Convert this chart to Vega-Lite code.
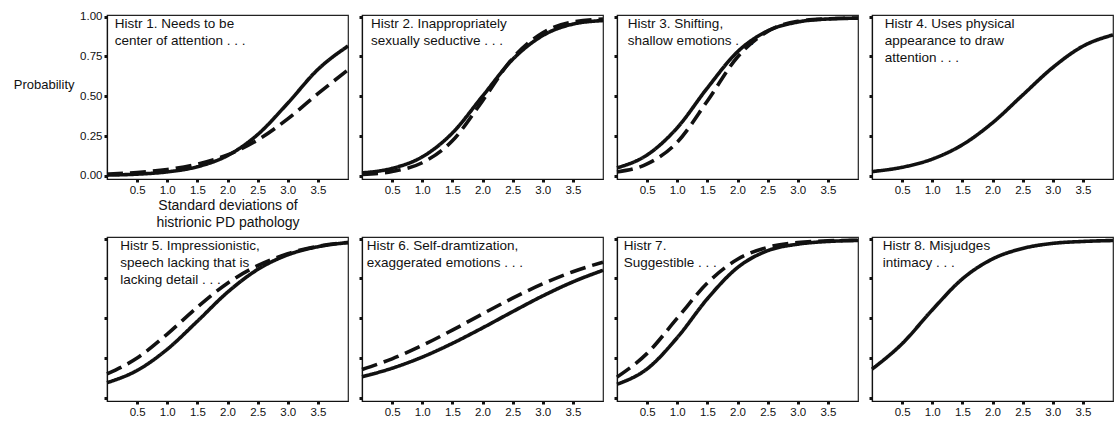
{
  "$schema": "https://vega.github.io/schema/vega-lite/v6.json",
  "padding": {"left": 12, "top": 9, "right": 0, "bottom": 0},
  "background": "white",
  "datasets": {
    "curves": [
      {"panel":1,"type":"solid","x":0,"p":0.0044},{"panel":1,"type":"solid","x":0.5,"p":0.0105},{"panel":1,"type":"solid","x":1,"p":0.0247},{"panel":1,"type":"solid","x":1.5,"p":0.057},{"panel":1,"type":"solid","x":2,"p":0.127},{"panel":1,"type":"solid","x":2.5,"p":0.259},{"panel":1,"type":"solid","x":3,"p":0.456},{"panel":1,"type":"solid","x":3.5,"p":0.668},{"panel":1,"type":"solid","x":4,"p":0.815},
      {"panel":1,"type":"dashed","x":0,"p":0.0111},{"panel":1,"type":"dashed","x":0.5,"p":0.0211},{"panel":1,"type":"dashed","x":1,"p":0.0397},{"panel":1,"type":"dashed","x":1.5,"p":0.0735},{"panel":1,"type":"dashed","x":2,"p":0.132},{"panel":1,"type":"dashed","x":2.5,"p":0.225},{"panel":1,"type":"dashed","x":3,"p":0.358},{"panel":1,"type":"dashed","x":3.5,"p":0.516},{"panel":1,"type":"dashed","x":4,"p":0.665},
      {"panel":2,"type":"solid","x":0,"p":0.018},{"panel":2,"type":"solid","x":0.5,"p":0.047},{"panel":2,"type":"solid","x":1,"p":0.119},{"panel":2,"type":"solid","x":1.5,"p":0.269},{"panel":2,"type":"solid","x":2,"p":0.5},{"panel":2,"type":"solid","x":2.5,"p":0.731},{"panel":2,"type":"solid","x":3,"p":0.881},{"panel":2,"type":"solid","x":3.5,"p":0.953},{"panel":2,"type":"solid","x":4,"p":0.975},
      {"panel":2,"type":"dashed","x":0,"p":0.0089},{"panel":2,"type":"dashed","x":0.5,"p":0.0276},{"panel":2,"type":"dashed","x":1,"p":0.082},{"panel":2,"type":"dashed","x":1.5,"p":0.22},{"panel":2,"type":"dashed","x":2,"p":0.471},{"panel":2,"type":"dashed","x":2.5,"p":0.738},{"panel":2,"type":"dashed","x":3,"p":0.899},{"panel":2,"type":"dashed","x":3.5,"p":0.966},{"panel":2,"type":"dashed","x":4,"p":0.984},
      {"panel":3,"type":"solid","x":0,"p":0.05},{"panel":3,"type":"solid","x":0.5,"p":0.131},{"panel":3,"type":"solid","x":1,"p":0.302},{"panel":3,"type":"solid","x":1.5,"p":0.552},{"panel":3,"type":"solid","x":2,"p":0.779},{"panel":3,"type":"solid","x":2.5,"p":0.91},{"panel":3,"type":"solid","x":3,"p":0.966},{"panel":3,"type":"solid","x":3.5,"p":0.985},{"panel":3,"type":"solid","x":4,"p":0.99},
      {"panel":3,"type":"dashed","x":0,"p":0.0237},{"panel":3,"type":"dashed","x":0.5,"p":0.0745},{"panel":3,"type":"dashed","x":1,"p":0.211},{"panel":3,"type":"dashed","x":1.5,"p":0.47},{"panel":3,"type":"dashed","x":2,"p":0.746},{"panel":3,"type":"dashed","x":2.5,"p":0.907},{"panel":3,"type":"dashed","x":3,"p":0.97},{"panel":3,"type":"dashed","x":3.5,"p":0.986},{"panel":3,"type":"dashed","x":4,"p":0.991},
      {"panel":4,"type":"solid","x":0,"p":0.0267},{"panel":4,"type":"solid","x":0.5,"p":0.0536},{"panel":4,"type":"solid","x":1,"p":0.105},{"panel":4,"type":"solid","x":1.5,"p":0.195},{"panel":4,"type":"solid","x":2,"p":0.333},{"panel":4,"type":"solid","x":2.5,"p":0.507},{"panel":4,"type":"solid","x":3,"p":0.68},{"panel":4,"type":"solid","x":3.5,"p":0.814},{"panel":4,"type":"solid","x":4,"p":0.885},
      {"panel":5,"type":"solid","x":0,"p":0.095},{"panel":5,"type":"solid","x":0.5,"p":0.172},{"panel":5,"type":"solid","x":1,"p":0.305},{"panel":5,"type":"solid","x":1.5,"p":0.481},{"panel":5,"type":"solid","x":2,"p":0.663},{"panel":5,"type":"solid","x":2.5,"p":0.806},{"panel":5,"type":"solid","x":3,"p":0.898},{"panel":5,"type":"solid","x":3.5,"p":0.949},{"panel":5,"type":"solid","x":4,"p":0.975},
      {"panel":5,"type":"dashed","x":0,"p":0.15},{"panel":5,"type":"dashed","x":0.5,"p":0.25},{"panel":5,"type":"dashed","x":1,"p":0.4},{"panel":5,"type":"dashed","x":1.5,"p":0.57},{"panel":5,"type":"dashed","x":2,"p":0.72},{"panel":5,"type":"dashed","x":2.5,"p":0.83},{"panel":5,"type":"dashed","x":3,"p":0.905},{"panel":5,"type":"dashed","x":3.5,"p":0.952},{"panel":5,"type":"dashed","x":4,"p":0.976},
      {"panel":6,"type":"solid","x":0,"p":0.132},{"panel":6,"type":"solid","x":0.5,"p":0.186},{"panel":6,"type":"solid","x":1,"p":0.256},{"panel":6,"type":"solid","x":1.5,"p":0.342},{"panel":6,"type":"solid","x":2,"p":0.439},{"panel":6,"type":"solid","x":2.5,"p":0.541},{"panel":6,"type":"solid","x":3,"p":0.64},{"panel":6,"type":"solid","x":3.5,"p":0.728},{"panel":6,"type":"solid","x":4,"p":0.801},
      {"panel":6,"type":"dashed","x":0,"p":0.178},{"panel":6,"type":"dashed","x":0.5,"p":0.245},{"panel":6,"type":"dashed","x":1,"p":0.329},{"panel":6,"type":"dashed","x":1.5,"p":0.425},{"panel":6,"type":"dashed","x":2,"p":0.527},{"panel":6,"type":"dashed","x":2.5,"p":0.626},{"panel":6,"type":"dashed","x":3,"p":0.716},{"panel":6,"type":"dashed","x":3.5,"p":0.792},{"panel":6,"type":"dashed","x":4,"p":0.852},
      {"panel":7,"type":"solid","x":0,"p":0.085},{"panel":7,"type":"solid","x":0.5,"p":0.182},{"panel":7,"type":"solid","x":1,"p":0.378},{"panel":7,"type":"solid","x":1.5,"p":0.622},{"panel":7,"type":"solid","x":2,"p":0.818},{"panel":7,"type":"solid","x":2.5,"p":0.924},{"panel":7,"type":"solid","x":3,"p":0.965},{"panel":7,"type":"solid","x":3.5,"p":0.982},{"panel":7,"type":"solid","x":4,"p":0.988},
      {"panel":7,"type":"dashed","x":0,"p":0.13},{"panel":7,"type":"dashed","x":0.5,"p":0.279},{"panel":7,"type":"dashed","x":1,"p":0.5},{"panel":7,"type":"dashed","x":1.5,"p":0.721},{"panel":7,"type":"dashed","x":2,"p":0.87},{"panel":7,"type":"dashed","x":2.5,"p":0.945},{"panel":7,"type":"dashed","x":3,"p":0.975},{"panel":7,"type":"dashed","x":3.5,"p":0.986},{"panel":7,"type":"dashed","x":4,"p":0.99},
      {"panel":8,"type":"solid","x":0,"p":0.18},{"panel":8,"type":"solid","x":0.5,"p":0.34},{"panel":8,"type":"solid","x":1,"p":0.552},{"panel":8,"type":"solid","x":1.5,"p":0.747},{"panel":8,"type":"solid","x":2,"p":0.872},{"panel":8,"type":"solid","x":2.5,"p":0.938},{"panel":8,"type":"solid","x":3,"p":0.97},{"panel":8,"type":"solid","x":3.5,"p":0.982},{"panel":8,"type":"solid","x":4,"p":0.988}
    ],
    "labels": [
      {"panel":1,"x":0.13,"p":0.995,"label":"Histr 1.  Needs to be\ncenter of attention . . ."},
      {"panel":2,"x":0.15,"p":0.995,"label":"Histr 2.  Inappropriately\nsexually seductive  . . ."},
      {"panel":3,"x":0.18,"p":0.995,"label":"Histr 3.  Shifting,\nshallow emotions . . ."},
      {"panel":4,"x":0.21,"p":0.995,"label":"Histr 4.  Uses physical\nappearance to draw\nattention  . . ."},
      {"panel":5,"x":0.22,"p":0.995,"label":"Histr 5.  Impressionistic,\nspeech lacking that is\nlacking detail . . ."},
      {"panel":6,"x":0.08,"p":0.995,"label":"Histr 6.  Self-dramtization,\nexaggerated emotions  . . ."},
      {"panel":7,"x":0.11,"p":0.995,"label":"Histr 7.\nSuggestible  . . ."},
      {"panel":8,"x":0.18,"p":0.995,"label":"Histr 8.  Misjudges\nintimacy . . ."}
    ]
  },
  "columns": 4,
  "bounds": "flush",
  "spacing": {"row": 58, "column": 14},
  "concat": [
    {
      "width": 241, "height": 164,
      "encoding": {
        "x": {"field": "x", "type": "quantitative", "scale": {"domain": [0, 4], "nice": false, "zero": false},
              "axis": {"values": [0.5,1,1.5,2,2.5,3,3.5], "format": ".1f", "title": ["Standard deviations of", "histrionic PD pathology"], "titleFontSize": 14, "titleLineHeight": 16.5, "titlePadding": 3}},
        "y": {"field": "p", "type": "quantitative", "scale": {"domain": [-0.02, 1.01], "nice": false, "zero": false},
              "axis": {"values": [0,0.25,0.5,0.75,1], "format": ".2f", "title": "Probability", "titleAngle": 0, "titleAlign": "right", "titleBaseline": "middle", "titleX": -33, "titleY": 69}}
      },
      "layer": [
        {"data": {"name": "curves"}, "transform": [{"filter": "datum.panel == 1"}],
         "mark": {"type": "line", "interpolate": "monotone", "color": "#111", "strokeWidth": 3.6},
         "encoding": {"strokeDash": {"field": "type", "type": "nominal", "scale": {"domain": ["solid","dashed"], "range": [[1,0],[16,7]]}, "legend": null}}},
        {"data": {"name": "labels"}, "transform": [{"filter": "datum.panel == 1"}],
         "mark": {"type": "text", "align": "left", "baseline": "top", "lineBreak": "\n", "fontSize": 13.5, "lineHeight": 17, "color": "#111", "font": "Liberation Sans"},
         "encoding": {"text": {"field": "label"}}}
      ]
    },
    {
      "width": 241, "height": 164,
      "encoding": {
        "x": {"field": "x", "type": "quantitative", "scale": {"domain": [0, 4], "nice": false, "zero": false},
              "axis": {"values": [0.5,1,1.5,2,2.5,3,3.5], "format": ".1f", "title": null}},
        "y": {"field": "p", "type": "quantitative", "scale": {"domain": [-0.02, 1.01], "nice": false, "zero": false},
              "axis": {"values": [0,0.25,0.5,0.75,1], "labels": false, "title": null}}
      },
      "layer": [
        {"data": {"name": "curves"}, "transform": [{"filter": "datum.panel == 2"}],
         "mark": {"type": "line", "interpolate": "monotone", "color": "#111", "strokeWidth": 3.6},
         "encoding": {"strokeDash": {"field": "type", "type": "nominal", "scale": {"domain": ["solid","dashed"], "range": [[1,0],[16,7]]}, "legend": null}}},
        {"data": {"name": "labels"}, "transform": [{"filter": "datum.panel == 2"}],
         "mark": {"type": "text", "align": "left", "baseline": "top", "lineBreak": "\n", "fontSize": 13.5, "lineHeight": 17, "color": "#111", "font": "Liberation Sans"},
         "encoding": {"text": {"field": "label"}}}
      ]
    },
    {
      "width": 241, "height": 164,
      "encoding": {
        "x": {"field": "x", "type": "quantitative", "scale": {"domain": [0, 4], "nice": false, "zero": false},
              "axis": {"values": [0.5,1,1.5,2,2.5,3,3.5], "format": ".1f", "title": null}},
        "y": {"field": "p", "type": "quantitative", "scale": {"domain": [-0.02, 1.01], "nice": false, "zero": false},
              "axis": {"values": [0,0.25,0.5,0.75,1], "labels": false, "title": null}}
      },
      "layer": [
        {"data": {"name": "curves"}, "transform": [{"filter": "datum.panel == 3"}],
         "mark": {"type": "line", "interpolate": "monotone", "color": "#111", "strokeWidth": 3.6},
         "encoding": {"strokeDash": {"field": "type", "type": "nominal", "scale": {"domain": ["solid","dashed"], "range": [[1,0],[16,7]]}, "legend": null}}},
        {"data": {"name": "labels"}, "transform": [{"filter": "datum.panel == 3"}],
         "mark": {"type": "text", "align": "left", "baseline": "top", "lineBreak": "\n", "fontSize": 13.5, "lineHeight": 17, "color": "#111", "font": "Liberation Sans"},
         "encoding": {"text": {"field": "label"}}}
      ]
    },
    {
      "width": 241, "height": 164,
      "encoding": {
        "x": {"field": "x", "type": "quantitative", "scale": {"domain": [0, 4], "nice": false, "zero": false},
              "axis": {"values": [0.5,1,1.5,2,2.5,3,3.5], "format": ".1f", "title": null}},
        "y": {"field": "p", "type": "quantitative", "scale": {"domain": [-0.02, 1.01], "nice": false, "zero": false},
              "axis": {"values": [0,0.25,0.5,0.75,1], "labels": false, "title": null}}
      },
      "layer": [
        {"data": {"name": "curves"}, "transform": [{"filter": "datum.panel == 4"}],
         "mark": {"type": "line", "interpolate": "monotone", "color": "#111", "strokeWidth": 3.6},
         "encoding": {"strokeDash": {"field": "type", "type": "nominal", "scale": {"domain": ["solid","dashed"], "range": [[1,0],[16,7]]}, "legend": null}}},
        {"data": {"name": "labels"}, "transform": [{"filter": "datum.panel == 4"}],
         "mark": {"type": "text", "align": "left", "baseline": "top", "lineBreak": "\n", "fontSize": 13.5, "lineHeight": 17, "color": "#111", "font": "Liberation Sans"},
         "encoding": {"text": {"field": "label"}}}
      ]
    },
    {
      "width": 241, "height": 164,
      "encoding": {
        "x": {"field": "x", "type": "quantitative", "scale": {"domain": [0, 4], "nice": false, "zero": false},
              "axis": {"values": [0.5,1,1.5,2,2.5,3,3.5], "format": ".1f", "title": null}},
        "y": {"field": "p", "type": "quantitative", "scale": {"domain": [-0.02, 1.01], "nice": false, "zero": false},
              "axis": {"values": [0,0.25,0.5,0.75,1], "labels": false, "title": null}}
      },
      "layer": [
        {"data": {"name": "curves"}, "transform": [{"filter": "datum.panel == 5"}],
         "mark": {"type": "line", "interpolate": "monotone", "color": "#111", "strokeWidth": 3.6},
         "encoding": {"strokeDash": {"field": "type", "type": "nominal", "scale": {"domain": ["solid","dashed"], "range": [[1,0],[16,7]]}, "legend": null}}},
        {"data": {"name": "labels"}, "transform": [{"filter": "datum.panel == 5"}],
         "mark": {"type": "text", "align": "left", "baseline": "top", "lineBreak": "\n", "fontSize": 13.5, "lineHeight": 17, "color": "#111", "font": "Liberation Sans"},
         "encoding": {"text": {"field": "label"}}}
      ]
    },
    {
      "width": 241, "height": 164,
      "encoding": {
        "x": {"field": "x", "type": "quantitative", "scale": {"domain": [0, 4], "nice": false, "zero": false},
              "axis": {"values": [0.5,1,1.5,2,2.5,3,3.5], "format": ".1f", "title": null}},
        "y": {"field": "p", "type": "quantitative", "scale": {"domain": [-0.02, 1.01], "nice": false, "zero": false},
              "axis": {"values": [0,0.25,0.5,0.75,1], "labels": false, "title": null}}
      },
      "layer": [
        {"data": {"name": "curves"}, "transform": [{"filter": "datum.panel == 6"}],
         "mark": {"type": "line", "interpolate": "monotone", "color": "#111", "strokeWidth": 3.6},
         "encoding": {"strokeDash": {"field": "type", "type": "nominal", "scale": {"domain": ["solid","dashed"], "range": [[1,0],[16,7]]}, "legend": null}}},
        {"data": {"name": "labels"}, "transform": [{"filter": "datum.panel == 6"}],
         "mark": {"type": "text", "align": "left", "baseline": "top", "lineBreak": "\n", "fontSize": 13.5, "lineHeight": 17, "color": "#111", "font": "Liberation Sans"},
         "encoding": {"text": {"field": "label"}}}
      ]
    },
    {
      "width": 241, "height": 164,
      "encoding": {
        "x": {"field": "x", "type": "quantitative", "scale": {"domain": [0, 4], "nice": false, "zero": false},
              "axis": {"values": [0.5,1,1.5,2,2.5,3,3.5], "format": ".1f", "title": null}},
        "y": {"field": "p", "type": "quantitative", "scale": {"domain": [-0.02, 1.01], "nice": false, "zero": false},
              "axis": {"values": [0,0.25,0.5,0.75,1], "labels": false, "title": null}}
      },
      "layer": [
        {"data": {"name": "curves"}, "transform": [{"filter": "datum.panel == 7"}],
         "mark": {"type": "line", "interpolate": "monotone", "color": "#111", "strokeWidth": 3.6},
         "encoding": {"strokeDash": {"field": "type", "type": "nominal", "scale": {"domain": ["solid","dashed"], "range": [[1,0],[16,7]]}, "legend": null}}},
        {"data": {"name": "labels"}, "transform": [{"filter": "datum.panel == 7"}],
         "mark": {"type": "text", "align": "left", "baseline": "top", "lineBreak": "\n", "fontSize": 13.5, "lineHeight": 17, "color": "#111", "font": "Liberation Sans"},
         "encoding": {"text": {"field": "label"}}}
      ]
    },
    {
      "width": 241, "height": 164,
      "encoding": {
        "x": {"field": "x", "type": "quantitative", "scale": {"domain": [0, 4], "nice": false, "zero": false},
              "axis": {"values": [0.5,1,1.5,2,2.5,3,3.5], "format": ".1f", "title": null}},
        "y": {"field": "p", "type": "quantitative", "scale": {"domain": [-0.02, 1.01], "nice": false, "zero": false},
              "axis": {"values": [0,0.25,0.5,0.75,1], "labels": false, "title": null}}
      },
      "layer": [
        {"data": {"name": "curves"}, "transform": [{"filter": "datum.panel == 8"}],
         "mark": {"type": "line", "interpolate": "monotone", "color": "#111", "strokeWidth": 3.6},
         "encoding": {"strokeDash": {"field": "type", "type": "nominal", "scale": {"domain": ["solid","dashed"], "range": [[1,0],[16,7]]}, "legend": null}}},
        {"data": {"name": "labels"}, "transform": [{"filter": "datum.panel == 8"}],
         "mark": {"type": "text", "align": "left", "baseline": "top", "lineBreak": "\n", "fontSize": 13.5, "lineHeight": 17, "color": "#111", "font": "Liberation Sans"},
         "encoding": {"text": {"field": "label"}}}
      ]
    }
  ],
  "config": {
    "view": {"stroke": "#222", "strokeWidth": 1.2},
    "axis": {"grid": false, "domainColor": "#111", "domainWidth": 1.2, "tickColor": "#111", "tickSize": 3, "tickWidth": 3,
             "labelFont": "Liberation Sans", "labelFontSize": 11.5, "labelColor": "#111", "labelPadding": 2,
             "titleFont": "Liberation Sans", "titleFontSize": 13, "titleFontWeight": "normal", "titleColor": "#111"},
    "text": {"font": "Liberation Sans"}
  }
}
